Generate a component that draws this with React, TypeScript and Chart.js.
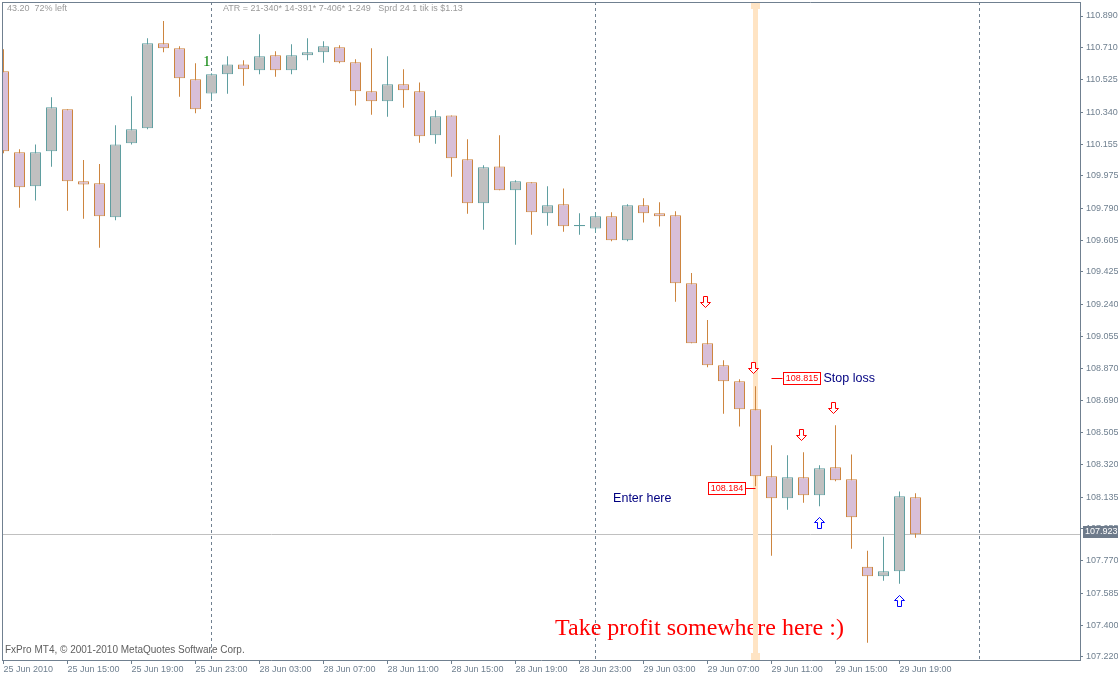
import React, { useEffect, useRef } from "react";
import { Chart, registerables } from "chart.js";
Chart.register(...registerables);

// ---- Hourly bars (25 Jun 2010 11:00 .. 29 Jun 20:00) ----
const opens = [
  110.573, 110.110, 109.915, 110.115, 110.356, 109.944, 109.932, 109.738, 110.161, 110.247,
  110.734, 110.705, 110.528, 110.447, 110.556, 110.613, 110.579, 110.665, 110.579, 110.665,
  110.682, 110.711, 110.625, 110.459, 110.402, 110.499, 110.459, 110.207, 110.321, 110.070,
  109.818, 110.029, 109.892, 109.938, 109.760, 109.812, 109.686, 109.674, 109.743, 109.606,
  109.806, 109.760, 109.749, 109.360, 109.016, 108.890, 108.799, 108.638, 108.255, 108.129,
  108.249, 108.146, 108.306, 108.237, 107.737, 107.682, 107.711, 108.134,
];
const highs = [
  110.699, 110.127, 110.155, 110.425, 110.356, 110.066, 110.043, 110.264, 110.430, 110.762,
  110.862, 110.717, 110.619, 110.562, 110.659, 110.636, 110.785, 110.688, 110.728, 110.762,
  110.745, 110.722, 110.642, 110.705, 110.659, 110.585, 110.510, 110.350, 110.321, 110.184,
  110.035, 110.207, 109.949, 109.938, 109.915, 109.903, 109.760, 109.766, 109.766, 109.812,
  109.846, 109.823, 109.772, 109.419, 109.149, 108.919, 108.810, 108.770, 108.432, 108.375,
  108.392, 108.318, 108.547, 108.380, 107.829, 107.909, 108.168, 108.157,
];
const lows = [
  110.104, 109.792, 109.833, 110.027, 109.775, 109.729, 109.563, 109.720, 110.155, 110.241,
  110.682, 110.428, 110.333, 110.407, 110.445, 110.491, 110.556, 110.542, 110.556, 110.636,
  110.623, 110.619, 110.378, 110.325, 110.313, 110.365, 110.165, 110.159, 109.970, 109.758,
  109.666, 109.892, 109.581, 109.638, 109.689, 109.655, 109.638, 109.649, 109.600, 109.600,
  109.708, 109.685, 109.254, 109.016, 108.879, 108.613, 108.539, 108.197, 107.800, 108.063,
  108.103, 108.083, 108.226, 107.840, 107.302, 107.657, 107.640, 107.903,
];
const closes = [
  110.115, 109.909, 110.110, 110.367, 109.944, 109.926, 109.743, 110.155, 110.241, 110.734,
  110.705, 110.533, 110.356, 110.556, 110.613, 110.585, 110.659, 110.579, 110.665, 110.682,
  110.717, 110.625, 110.459, 110.402, 110.499, 110.465, 110.201, 110.316, 110.075, 109.818,
  110.024, 109.892, 109.944, 109.766, 109.806, 109.686, 109.693, 109.743, 109.606, 109.806,
  109.760, 109.743, 109.360, 109.016, 108.890, 108.799, 108.638, 108.255, 108.129, 108.249,
  108.146, 108.300, 108.232, 108.020, 107.682, 107.711, 108.140, 107.923,
];

// ---- Axes ----
const priceTicks = [
  110.89, 110.71, 110.525, 110.34, 110.155, 109.975, 109.79, 109.605, 109.425, 109.24, 109.055,
  108.87, 108.69, 108.505, 108.32, 108.135, 107.955, 107.77, 107.585, 107.4, 107.22,
];
const priceMin = 107.2028;
const priceMax = 110.9702;
const timeTickBars = [0, 4, 8, 12, 16, 20, 24, 28, 32, 36, 40, 44, 48, 52, 56];
const timeTickLabels = [
  "25 Jun 2010", "25 Jun 15:00", "25 Jun 19:00", "25 Jun 23:00", "28 Jun 03:00", "28 Jun 07:00",
  "28 Jun 11:00", "28 Jun 15:00", "28 Jun 19:00", "28 Jun 23:00", "29 Jun 03:00", "29 Jun 07:00",
  "29 Jun 11:00", "29 Jun 15:00", "29 Jun 19:00",
];
const barMin = -0.09375;
const barMax = 67.28125;

// ---- Objects on the chart ----
const daySeparatorBars = [13, 37, 61];
const currentPrice = 107.923;
const highlightBar = 47;
const downArrowBars = [43.87, 46.87, 49.87, 51.87];
const downArrowPrices = [109.25, 108.873, 108.491, 108.646];
const upArrowBars = [51, 56];
const upArrowPrices = [107.986, 107.542];
const levelTexts = ["108.815", "108.184"];
const levelPrices = [108.815, 108.184];
const levelBars = [48, 47];
const noteTexts = ["Stop loss", "Enter here", "Take profit somewhere here :)", "1"];
const noteBars = [51.25, 38.1, 34.47, 12.7];
const notePrices = [108.815, 108.13, 107.346, 110.624];
const headerLeft = "43.20  72% left";
const headerAtr = "ATR = 21-340* 14-391* 7-406* 1-249   Sprd 24 1 tik is $1.13";
const copyright = "FxPro MT4, \u00A9 2001-2010 MetaQuotes Software Corp.";

const SLATE = "#708090";
const SANS = '"Liberation Sans", Arial, sans-serif';
const SERIF = '"Liberation Serif", "Times New Roman", serif';

export default function App() {
  const ref = useRef<HTMLCanvasElement>(null);

  useEffect(() => {
    const canvas = ref.current;
    if (!canvas) return;
    const idx = opens.map((_, i) => i);
    const bull = idx.map((i) => closes[i] >= opens[i]);
    const fill = bull.map((b) => (b ? "#C0C0C0" : "#D8BFD8"));
    const edge = bull.map((b) => (b ? "#5F9EA0" : "#CD853F"));

    const half = (v: number) => Math.floor(v) + 0.5;

    const arrow = (ctx: CanvasRenderingContext2D, cx: number, cy: number, up: boolean, color: string) => {
      const x0 = cx - 5;
      const y0 = Math.round(cy - 6) + 0.5;
      ctx.beginPath();
      if (!up) {
        ctx.moveTo(x0 + 3, y0);
        ctx.lineTo(x0 + 7, y0);
        ctx.lineTo(x0 + 7, y0 + 6);
        ctx.lineTo(x0 + 10, y0 + 6);
        ctx.lineTo(cx, y0 + 11);
        ctx.lineTo(x0, y0 + 6);
        ctx.lineTo(x0 + 3, y0 + 6);
      } else {
        ctx.moveTo(x0 + 3, y0 + 11);
        ctx.lineTo(x0 + 7, y0 + 11);
        ctx.lineTo(x0 + 7, y0 + 5);
        ctx.lineTo(x0 + 10, y0 + 5);
        ctx.lineTo(cx, y0);
        ctx.lineTo(x0, y0 + 5);
        ctx.lineTo(x0 + 3, y0 + 5);
      }
      ctx.closePath();
      ctx.fillStyle = "#ffffff";
      ctx.fill();
      ctx.strokeStyle = color;
      ctx.lineWidth = 1;
      ctx.stroke();
    };

    const overlay = {
      id: "mt4overlay",
      beforeDraw(c: any) {
        const ctx = c.ctx;
        ctx.save();
        ctx.fillStyle = "#ffffff";
        ctx.fillRect(0, 0, c.width, c.height);
        ctx.restore();
      },
      beforeDatasetsDraw(c: any) {
        const { ctx, chartArea: a, scales } = c;
        const x = scales.x, y = scales.y;
        ctx.save();
        const py = half(y.getPixelForValue(currentPrice));
        ctx.strokeStyle = "#C0C0C0";
        ctx.lineWidth = 1;
        ctx.beginPath();
        ctx.moveTo(a.left, py);
        ctx.lineTo(a.right, py);
        ctx.stroke();
        ctx.strokeStyle = SLATE;
        ctx.setLineDash([3, 3]);
        daySeparatorBars.forEach((b) => {
          const px = half(x.getPixelForValue(b));
          ctx.beginPath();
          ctx.moveTo(px, a.top);
          ctx.lineTo(px, a.bottom);
          ctx.stroke();
        });
        ctx.setLineDash([]);
        ctx.fillStyle = "#FF0000";
        ctx.font = `24px ${SERIF}`;
        ctx.textAlign = "left";
        ctx.textBaseline = "alphabetic";
        ctx.fillText(noteTexts[2], x.getPixelForValue(noteBars[2]), y.getPixelForValue(notePrices[2]));
        const bx = x.getPixelForValue(highlightBar);
        ctx.fillStyle = "#FFE4C4";
        ctx.fillRect(Math.round(bx - 2.5), a.top, 5, a.bottom - a.top);
        ctx.fillRect(Math.round(bx - 4.5), a.top, 9, 7);
        ctx.fillRect(Math.round(bx - 4.5), a.bottom - 7, 9, 7);
        ctx.restore();
      },
      afterDatasetsDraw(c: any) {
        const { ctx, chartArea: a, scales } = c;
        const x = scales.x, y = scales.y;
        ctx.save();
        downArrowBars.forEach((b, i) =>
          arrow(ctx, half(x.getPixelForValue(b)), y.getPixelForValue(downArrowPrices[i]), false, "#FF0000")
        );
        upArrowBars.forEach((b, i) =>
          arrow(ctx, half(x.getPixelForValue(b)), y.getPixelForValue(upArrowPrices[i]), true, "#0000FF")
        );
        ctx.font = `9px ${SANS}`;
        levelTexts.forEach((t, i) => {
          const ax = x.getPixelForValue(levelBars[i]);
          const ly = half(y.getPixelForValue(levelPrices[i]));
          const w = Math.round(ctx.measureText(t).width) + 4;
          const dir = i === 0 ? 1 : -1;
          const lineEnd = ax + dir * 11;
          ctx.strokeStyle = "#FF0000";
          ctx.lineWidth = 1;
          ctx.beginPath();
          ctx.moveTo(ax, ly);
          ctx.lineTo(lineEnd, ly);
          ctx.stroke();
          const bxl = dir > 0 ? Math.round(lineEnd) + 0.5 : Math.round(lineEnd - w) + 0.5;
          ctx.fillStyle = "#ffffff";
          ctx.fillRect(bxl, ly - 6, w, 12);
          ctx.strokeRect(bxl, ly - 6, w, 12);
          ctx.fillStyle = "#FF0000";
          ctx.textAlign = "center";
          ctx.textBaseline = "middle";
          ctx.fillText(t, bxl + w / 2, ly + 0.5);
        });
        ctx.fillStyle = "#000080";
        ctx.font = `12.5px ${SANS}`;
        ctx.textAlign = "left";
        ctx.textBaseline = "middle";
        [0, 1].forEach((k) => {
          ctx.fillText(noteTexts[k], x.getPixelForValue(noteBars[k]), y.getPixelForValue(notePrices[k]));
        });
        ctx.fillStyle = "#008000";
        ctx.font = `15px ${SERIF}`;
        ctx.textAlign = "center";
        ctx.fillText(noteTexts[3], x.getPixelForValue(noteBars[3]), y.getPixelForValue(notePrices[3]));
        ctx.strokeStyle = SLATE;
        ctx.beginPath();
        ctx.moveTo(a.left, a.top + 0.5);
        ctx.lineTo(a.right, a.top + 0.5);
        ctx.moveTo(a.left + 0.5, a.top);
        ctx.lineTo(a.left + 0.5, a.bottom);
        ctx.stroke();
        ctx.fillStyle = "#9A9A9A";
        ctx.font = `9px ${SANS}`;
        ctx.textAlign = "left";
        ctx.textBaseline = "middle";
        ctx.fillText(headerLeft, a.left + 5, a.top + 7);
        ctx.fillText(headerAtr, a.left + 221, a.top + 7);
        ctx.fillStyle = "#606060";
        ctx.font = `10px ${SANS}`;
        ctx.fillText(copyright, a.left + 3, a.bottom - 10);
        ctx.restore();
      },
      afterDraw(c: any) {
        const { ctx, chartArea: a, scales } = c;
        const y = scales.y;
        ctx.save();
        const py = Math.round(y.getPixelForValue(currentPrice));
        ctx.fillStyle = "#6E7B8B";
        ctx.fillRect(a.right + 3, py - 8, c.width - a.right - 3, 12);
        ctx.fillStyle = "#ffffff";
        ctx.font = `9px ${SANS}`;
        ctx.textAlign = "left";
        ctx.textBaseline = "middle";
        ctx.fillText(currentPrice.toFixed(3), a.right + 5, py - 2);
        ctx.restore();
      },
    };

    const chart = new Chart(canvas, {
      type: "bar",
      data: {
        datasets: [
          {
            label: "body",
            data: idx.map((i) => ({ x: i, y: [opens[i], closes[i]] })) as any,
            backgroundColor: fill,
            borderColor: edge,
            borderWidth: 1,
            borderSkipped: false,
            barThickness: 11,
            grouped: false,
            inflateAmount: 0,
            order: 1,
          } as any,
          {
            label: "wick",
            data: idx.map((i) => ({ x: i, y: [lows[i], highs[i]] })) as any,
            backgroundColor: edge,
            borderWidth: 0,
            barThickness: 1,
            grouped: false,
            inflateAmount: 0,
            order: 2,
          } as any,
        ],
      },
      options: {
        responsive: false,
        animation: false,
        events: [],
        layout: { padding: { left: 2, top: 2, right: 0, bottom: 0 } },
        plugins: { legend: { display: false }, tooltip: { enabled: false } },
        scales: {
          x: {
            type: "linear",
            min: barMin,
            max: barMax,
            offset: false,
            bounds: "data",
            grid: { drawOnChartArea: false, drawTicks: true, tickLength: 4, color: SLATE, offset: false },
            border: { display: true, color: SLATE },
            afterBuildTicks: (s: any) => {
              s.ticks = timeTickBars.map((v) => ({ value: v }));
            },
            afterFit: (s: any) => {
              s.height = 16;
              s.paddingLeft = 0;
              s.paddingRight = 0;
              s.paddingTop = 0;
              s.paddingBottom = 0;
            },
            ticks: {
              align: "start",
              padding: 0,
              autoSkip: false,
              maxRotation: 0,
              minRotation: 0,
              color: SLATE,
              font: { family: SANS, size: 9 },
              callback: (v: any) => {
                const k = timeTickBars.indexOf(Number(v));
                return k >= 0 ? timeTickLabels[k] : "";
              },
            },
          } as any,
          y: {
            type: "linear",
            position: "right",
            min: priceMin,
            max: priceMax,
            bounds: "data",
            grid: { drawOnChartArea: false, drawTicks: true, tickLength: 3, color: SLATE },
            border: { display: true, color: SLATE },
            afterBuildTicks: (s: any) => {
              s.ticks = priceTicks.map((v) => ({ value: v }));
            },
            afterFit: (s: any) => {
              s.width = 38;
              s.paddingLeft = 0;
              s.paddingRight = 0;
              s.paddingTop = 0;
              s.paddingBottom = 0;
            },
            ticks: {
              padding: 3,
              autoSkip: false,
              color: SLATE,
              font: { family: SANS, size: 9 },
              callback: (v: any) => Number(v).toFixed(3),
            },
          } as any,
        },
      },
      plugins: [overlay as any],
    });
    return () => chart.destroy();
  }, []);

  return (
    <div style={{ position: "fixed", left: 0, top: 0, width: 1118, height: 676, background: "#ffffff" }}>
      <canvas ref={ref} width={1118} height={676} style={{ display: "block", width: 1118, height: 676 }} />
    </div>
  );
}
